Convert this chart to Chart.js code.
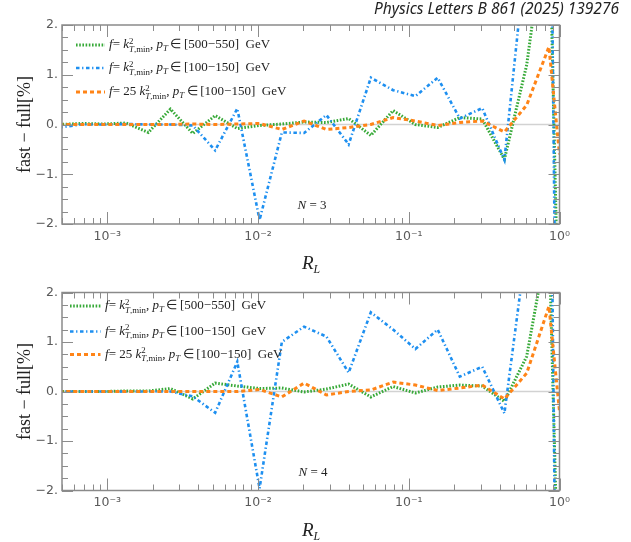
<!DOCTYPE html>
<html><head><meta charset="utf-8">
<script src="https://cdn.jsdelivr.net/npm/chart.js@4"></script>
<style>
html,body{margin:0;padding:0;background:#fff;}
#wrap{position:relative;width:631px;height:542px;overflow:hidden;background:#fff;}
canvas{position:absolute;left:0;}
.txt{position:absolute;white-space:nowrap;font-family:'Liberation Serif','Times New Roman',serif;color:#222;}
#title{position:absolute;right:12px;top:-3px;font-family:'Noto Sans',sans-serif;font-style:italic;font-size:15.5px;color:#222;white-space:nowrap;}
.leg{font-size:13px;line-height:16px;}
.ss{display:inline-block;vertical-align:-0.45em;font-size:0.68em;line-height:0.95;text-align:left;}
.ss span{display:block;}
.leg sub{font-size:0.68em;vertical-align:-0.3em;line-height:0;}
.rl{font-size:19px;line-height:20px;}
.rl sub{font-size:0.62em;vertical-align:-0.35em;line-height:0;}
.nl{font-size:13px;line-height:14px;}
</style></head>
<body>
<div id="wrap">
  <canvas id="c1" width="631" height="275" style="top:0;width:631px;height:275px"></canvas>
  <canvas id="c2" width="631" height="267" style="top:275px;width:631px;height:267px"></canvas>
  <div id="title">Physics Letters B 861 (2025) 139276</div>
</div>
<script>
// ---------- data ----------
const RL = [4.80e-4, 6.73e-4, 9.46e-4, 1.33e-3, 1.87e-3, 2.62e-3, 3.69e-3, 5.19e-3, 7.28e-3,
            1.023e-2, 1.438e-2, 2.02e-2, 2.84e-2, 3.99e-2, 5.60e-2, 7.87e-2, 0.1106, 0.1555,
            0.218, 0.307, 0.431, 0.606, 0.851, 1.0];

const N3_GREEN  = [0.0, 0.02, 0.01, 0.03, -0.16, 0.31, -0.18, 0.18, -0.08, -0.02, 0.01, 0.05,
                   0.04, 0.12, -0.22, 0.28, 0.0, -0.06, 0.14, 0.11, -0.70, 1.2, 4.5, -5];
const N3_BLUE   = [-0.06, 0.0, 0.0, 0.01, 0.0, 0.0, -0.02, -0.52, 0.32, -1.92, -0.16, -0.17,
                   0.19, -0.40, 0.94, 0.69, 0.57, 0.94, 0.12, 0.33, -0.71, 3.6, 9, -12];
const N3_ORANGE = [0.0, 0.0, 0.0, 0.0, 0.0, 0.0, 0.01, 0.0, 0.01, 0.02, -0.10, 0.07,
                   -0.10, -0.06, 0.0, 0.14, 0.07, -0.02, 0.04, 0.07, -0.15, 0.39, 1.56, -0.6];

const N4_GREEN  = [0.0, 0.0, 0.0, 0.01, 0.01, 0.06, -0.15, 0.17, 0.11, 0.06, 0.07, -0.01,
                   0.05, 0.15, -0.11, 0.10, -0.03, 0.09, 0.13, 0.11, -0.20, 0.71, 3.2, -5];
const N4_BLUE   = [0.0, 0.0, 0.0, 0.0, 0.0, 0.0, -0.10, -0.43, 0.60, -1.96, 1.0, 1.31,
                   1.11, 0.38, 1.60, 1.25, 0.86, 1.25, 0.30, 0.50, -0.44, 3.0, 9, -12];
const N4_ORANGE = [0.0, 0.0, 0.0, 0.0, 0.0, 0.0, 0.0, 0.0, 0.0, 0.04, -0.11, 0.17,
                   -0.07, 0.0, 0.03, 0.19, 0.13, 0.02, 0.07, 0.13, -0.15, 0.37, 1.72, -0.4];

const X_TICK_VALUES = [1e-3, 1e-2, 1e-1, 1];
const X_TICK_LABELS = ['10⁻³', '10⁻²', '10⁻¹', '10⁰'];
const Y_TICK_VALUES = [-2, -1, 0, 1, 2];
const Y_TICK_LABELS = ['−2.', '−1.', '0.', '1.', '2.'];
const SERIES_NAMES = ['f = k²T,min, pT ∈ [500−550] GeV',
                      'f = k²T,min, pT ∈ [100−150] GeV',
                      'f = 25 k²T,min, pT ∈ [100−150] GeV'];
const SERIES_PREFIX = ['', '', '25 '];
const SERIES_RANGE = ['500−550', '100−150', '100−150'];
const PANEL_LABELS = ['N = 3', 'N = 4'];
const X_TITLE = 'R_L';
const Y_TITLE = 'fast − full[%]';

// ---------- styles ----------
const STYLES = [
  {color:'#36a937', dash:[1.6,1.6], width:3.0, order:2},
  {color:'#1d8ff0', dash:[3.5,2.6,1.3,2.6], width:2.6, order:1},
  {color:'#ff8417', dash:[4,3], width:3.0, order:0}
];

const decor = {
  id:'decor',
  beforeDatasetsDraw(chart){
    const {ctx, chartArea:a, scales:{y}} = chart;
    const y0 = y.getPixelForValue(0);
    ctx.save();
    ctx.strokeStyle = '#d2d2d2'; ctx.lineWidth = 1.5;
    ctx.beginPath(); ctx.moveTo(a.left, y0); ctx.lineTo(a.right, y0); ctx.stroke();
    ctx.restore();
  },
  afterDatasetsDraw(chart, args, opts){
    const {ctx, chartArea:a, scales:{x, y}} = chart;
    ctx.save();
    ctx.strokeStyle = '#8c8c8c'; ctx.lineWidth = 1;
    const seg = (x1,y1,x2,y2)=>{ctx.beginPath();ctx.moveTo(x1,y1);ctx.lineTo(x2,y2);ctx.stroke();};
    // x ticks (major decades, minor 2..9)
    const xmin = x.min, xmax = x.max;
    X_TICK_VALUES.forEach(v=>{
      const px = Math.round(x.getPixelForValue(v)) + 0.5;
      seg(px, a.bottom, px, a.bottom - 12); seg(px, a.top, px, a.top + 12);
    });
    for (let e = -4; e <= -1; e++) for (let m = 2; m <= 9; m++) {
      const v = m * Math.pow(10, e);
      if (v < xmin || v > xmax) continue;
      const px = Math.round(x.getPixelForValue(v)) + 0.5;
      seg(px, a.bottom, px, a.bottom - 6); seg(px, a.top, px, a.top + 6);
    }
    // y ticks every 0.25, longer at integers
    for (let k = -8; k <= 8; k++) {
      const v = k / 4;
      const py = Math.round(y.getPixelForValue(v)) + 0.5;
      const len = (k % 4 === 0) ? 11 : 6;
      seg(a.left, py, a.left + len, py); seg(a.right, py, a.right - len, py);
    }
    // frame
    ctx.lineWidth = 1.5; ctx.strokeStyle = '#8a8a8a';
    ctx.strokeRect(a.left, a.top, a.right - a.left, a.bottom - a.top);
    // legend samples
    chart.data.datasets.forEach((ds, i)=>{
      const yy = opts.rows[i];
      ctx.save();
      ctx.strokeStyle = ds.borderColor; ctx.lineWidth = ds.borderWidth;
      ctx.setLineDash(ds.borderDash);
      ctx.beginPath(); ctx.moveTo(opts.x0, yy); ctx.lineTo(opts.x1, yy); ctx.stroke();
      ctx.restore();
    });
    ctx.restore();
  }
};

function makeChart(id, series, padTop, xAxisH, legendOpts){
  const datasets = series.map((vals, i)=>({
    label: SERIES_NAMES[i],
    data: RL.map((r, k)=>({x:r, y:vals[k]})),
    borderColor: STYLES[i].color,
    borderDash: STYLES[i].dash,
    borderWidth: STYLES[i].width,
    borderCapStyle: 'butt',
    pointRadius: 0,
    fill: false,
    tension: 0,
    clip: 0,
    order: STYLES[i].order
  }));
  return new Chart(document.getElementById(id), {
    type: 'line',
    data: {datasets},
    options: {
      responsive: false, animation: false, devicePixelRatio: 1,
      layout: {padding: {top: padTop, right: 71.5, left: 0, bottom: 0}},
      plugins: {legend: {display: false}, tooltip: {enabled: false}, decor: legendOpts},
      scales: {
        x: {
          type: 'logarithmic', min: 5e-4, max: 1,
          grid: {display: false, drawTicks: false, tickLength: 0},
          border: {display: false},
          afterBuildTicks: s => { s.ticks = X_TICK_VALUES.map(v => ({value: v})); },
          ticks: {
            autoSkip: false, maxRotation: 0, minRotation: 0, padding: 5,
            color: '#5a5a5a', font: {family: 'DejaVu Sans', size: 12.5},
            callback: v => { const i = X_TICK_VALUES.findIndex(t => Math.abs(t - v) / t < 1e-6); return i >= 0 ? X_TICK_LABELS[i] : ''; }
          },
          afterFit: s => { s.height = xAxisH; }
        },
        y: {
          min: -2, max: 2,
          grid: {display: false, drawTicks: false, tickLength: 0},
          border: {display: false},
          afterBuildTicks: s => { s.ticks = Y_TICK_VALUES.map(v => ({value: v})); },
          ticks: {
            padding: 4, color: '#5a5a5a', font: {family: 'DejaVu Sans', size: 12.5},
            callback: v => { const i = Y_TICK_VALUES.indexOf(v); return i >= 0 ? Y_TICK_LABELS[i] : ''; }
          },
          title: {display: true, text: Y_TITLE, color: '#222',
                  font: {family: 'Liberation Serif', size: 18}, padding: {top: 14, bottom: 0}},
          afterFit: s => { s.width = 62; }
        }
      }
    },
    plugins: [decor]
  });
}

makeChart('c1', [N3_GREEN, N3_BLUE, N3_ORANGE], 25, 51, {rows: [45, 68, 92], x0: 76, x1: 105});
makeChart('c2', [N4_GREEN, N4_BLUE, N4_ORANGE], 17.5, 51.5, {rows: [306-275, 331.5-275, 354.5-275], x0: 70, x1: 100.5});

// ---------- text overlays ----------
const wrap = document.getElementById('wrap');
function addText(cls, html, left, top, center){
  const d = document.createElement('div');
  d.className = 'txt ' + cls; d.innerHTML = html;
  d.style.left = left + 'px'; d.style.top = top + 'px';
  if (center) d.style.transform = 'translate(-50%,-50%)'; else d.style.transform = 'translateY(-50%)';
  wrap.appendChild(d);
}
function legendHTML(i){
  return '<i>f</i>= ' + SERIES_PREFIX[i] + '<i>k</i><span class="ss"><span>2</span><span><i>T</i>,min</span></span>, ' +
         '<i>p</i><sub><i>T</i></sub>&thinsp;∈&thinsp;[' + SERIES_RANGE[i] + ']&nbsp; GeV';
}
[[45, 68, 92, 109], [306, 331.5, 354.5, 105]].forEach(r=>{
  for (let i = 0; i < 3; i++) addText('leg', legendHTML(i), r[3], r[i], false);
});
function panelLabel(s){ return s.replace('N', '<i>N</i>'); }
addText('nl', panelLabel(PANEL_LABELS[0]), 312, 205, true);
addText('nl', panelLabel(PANEL_LABELS[1]), 313, 472, true);
const xt = '<i>' + X_TITLE.split('_')[0] + '</i><sub><i>' + X_TITLE.split('_')[1] + '</i></sub>';
addText('rl', xt, 311, 263, true);
addText('rl', xt, 311, 530, true);
</script>
</body></html>
